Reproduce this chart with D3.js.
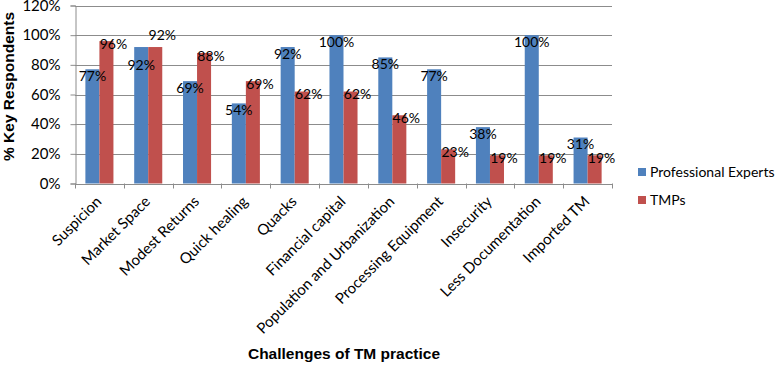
<!DOCTYPE html>
<html>
<head>
<meta charset="utf-8">
<script src="https://cdn.jsdelivr.net/npm/d3@7"></script>
<style>
  body { margin: 0; background: #fff; }
  svg { display: block; }
</style>
</head>
<body>
<div id="chart"></div>
<script>
const categories = ['Suspicion', 'Market Space', 'Modest Returns', 'Quick healing', 'Quacks',
  'Financial capital', 'Population and Urbanization', 'Processing Equipment', 'Insecurity',
  'Less Documentation', 'Imported TM'];
const seriesNames = ['Professional Experts', 'TMPs'];
const experts = [0.77, 0.92, 0.69, 0.54, 0.92, 1.00, 0.85, 0.77, 0.38, 1.00, 0.31];
const tmps = [0.96, 0.92, 0.88, 0.69, 0.62, 0.62, 0.46, 0.23, 0.19, 0.19, 0.19];
const yTicks = [0, 0.2, 0.4, 0.6, 0.8, 1.0, 1.2];
const colors = ['#4F81BD', '#C0504D'];

const width = 778;
const height = 365;
const plot = { left: 75, right: 612, top: 5.5, bottom: 183.5 };
const font = "Lato, 'Open Sans', sans-serif";
const pct = d3.format('.0%');

const svg = d3.select('#chart').append('svg')
  .attr('width', width)
  .attr('height', height);

const x = d3.scaleBand()
  .domain(categories)
  .range([plot.left, plot.right])
  .padding(0);

const x1 = d3.scaleBand()
  .domain(seriesNames)
  .range([0, x.bandwidth()])
  .paddingInner(0)
  .paddingOuter(0.74);

const y = d3.scaleLinear()
  .domain([0, 1.2])
  .range([plot.bottom, plot.top]);

// gridlines
svg.append('g')
  .selectAll('line')
  .data(yTicks.slice(1))
  .join('line')
  .attr('x1', plot.left)
  .attr('x2', plot.right)
  .attr('y1', (d) => Math.round(y(d)) + 0.5)
  .attr('y2', (d) => Math.round(y(d)) + 0.5)
  .attr('stroke', '#8c8c8c')
  .attr('stroke-width', 1);

// y axis
const yAxis = svg.append('g')
  .attr('transform', `translate(${plot.left + 0.5},0)`)
  .call(d3.axisLeft(y).tickValues(yTicks).tickFormat(pct).tickSizeOuter(0).tickSize(5));
yAxis.select('.domain').attr('stroke', '#8c8c8c');
yAxis.selectAll('.tick line').attr('stroke', '#8c8c8c');
yAxis.selectAll('.tick text')
  .attr('x', -15)
  .style('font-family', font)
  .style('font-size', '15px')
  .attr('fill', '#000');

// bars
const rows = categories.map((c, i) => ({ cat: c, vals: [experts[i], tmps[i]] }));
const groups = svg.append('g')
  .selectAll('g')
  .data(rows)
  .join('g')
  .attr('transform', (d) => `translate(${x(d.cat)},0)`);

const cells = (d) => d.vals.map((v, k) => ({
  s: seriesNames[k], v, k, close: Math.abs(d.vals[0] - d.vals[1]) < 0.1,
}));

groups.selectAll('rect')
  .data(cells)
  .join('rect')
  .attr('x', (d) => x1(d.s))
  .attr('width', x1.bandwidth())
  .attr('y', (d) => y(d.v))
  .attr('height', (d) => y(0) - y(d.v))
  .attr('fill', (d) => colors[d.k]);

// value labels: blue just inside the bar top, red nudged right;
// when both bars are about the same height, blue goes lower and red above
function labelDy(d) {
  if (d.close) return d.k === 0 ? 18 : -12;
  return d.k === 0 ? 7 : 3;
}
groups.selectAll('text')
  .data(cells)
  .join('text')
  .attr('x', (d) => x1(d.s) + x1.bandwidth() / 2 + (d.k === 0 ? 0 : 7))
  .attr('y', (d) => y(d.v) + labelDy(d))
  .attr('dy', '0.35em')
  .attr('text-anchor', 'middle')
  .style('font-family', font)
  .style('font-size', '14px')
  .attr('fill', '#000')
  .text((d) => pct(d.v));

// x axis
const xAxis = svg.append('g')
  .attr('transform', `translate(0,${plot.bottom + 0.5})`)
  .call(d3.axisBottom(x).tickSize(0).tickFormat(''));
xAxis.select('.domain').attr('stroke', '#8c8c8c');
xAxis.selectAll('.tick').remove();

svg.append('g')
  .selectAll('line')
  .data(d3.range(categories.length + 1))
  .join('line')
  .attr('x1', (i) => Math.round(plot.left + i * x.step()) + 0.5)
  .attr('x2', (i) => Math.round(plot.left + i * x.step()) + 0.5)
  .attr('y1', plot.bottom)
  .attr('y2', plot.bottom + 5)
  .attr('stroke', '#8c8c8c');

svg.append('g')
  .selectAll('text')
  .data(categories)
  .join('text')
  .attr('transform', (d) => `translate(${x(d) + x.bandwidth() / 2 + 3},${plot.bottom + 19}) rotate(-45)`)
  .attr('text-anchor', 'end')
  .style('font-family', font)
  .style('font-size', '15px')
  .attr('fill', '#000')
  .text((d) => d);

// axis titles
svg.append('text')
  .attr('transform', `translate(14,${(plot.top + plot.bottom) / 2 - 8}) rotate(-90)`)
  .attr('text-anchor', 'middle')
  .style('font-family', 'Liberation Sans, Arial, sans-serif')
  .style('font-weight', 'bold')
  .style('font-size', '15.5px')
  .text('% Key Respondents');

svg.append('text')
  .attr('x', 344)
  .attr('y', 359)
  .attr('text-anchor', 'middle')
  .style('font-family', 'Liberation Sans, Arial, sans-serif')
  .style('font-weight', 'bold')
  .style('font-size', '15.5px')
  .text('Challenges of TM practice');

// legend
const legend = svg.append('g')
  .attr('transform', 'translate(638,168)');
const items = legend.selectAll('g')
  .data(seriesNames)
  .join('g')
  .attr('transform', (d, i) => `translate(0,${i * 28})`);
items.append('rect')
  .attr('width', 8)
  .attr('height', 8)
  .attr('fill', (d, i) => colors[i]);
items.append('text')
  .attr('x', 12)
  .attr('y', 4)
  .attr('dy', '0.35em')
  .style('font-family', font)
  .style('font-size', '14px')
  .attr('fill', '#000')
  .text((d) => d);
</script>
</body>
</html>
